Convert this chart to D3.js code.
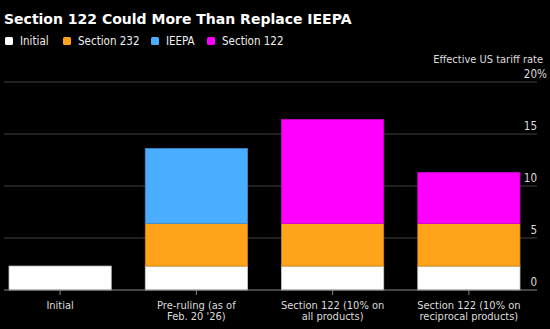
<!DOCTYPE html>
<html>
<head>
<meta charset="utf-8">
<script src="https://cdn.jsdelivr.net/npm/d3@7"></script>
<style>
  body { margin: 0; background: #000; }
  svg { display: block; font-family: "DejaVu Sans Condensed", "DejaVu Sans", sans-serif; font-stretch: condensed; }
</style>
</head>
<body>
<svg id="chart"></svg>
<script>
"use strict";

/*
*  DATA
*/

var categories = ["Initial", "Pre-ruling (as of Feb. 20 '26)", "Section 122 (10% on all products)", "Section 122 (10% on reciprocal products)"];
var labelLines = [["Initial"], ["Pre-ruling (as of", "Feb. 20 '26)"], ["Section 122 (10% on", "all products)"], ["Section 122 (10% on", "reciprocal products)"]];
var seriesNames = ["Initial", "Section 232", "IEEPA", "Section 122"];
var initialValues = [2.3, 2.3, 2.3, 2.3];
var s232Values = [0, 4.1, 4.1, 4.1];
var ieepaValues = [0, 7.2, 0, 0];
var s122Values = [0, 0, 10.0, 4.9];
var yTicks = [0, 5, 10, 15, 20];

var colors = ["#ffffff", "#ffa31a", "#4aadff", "#ff00ff"];

/*
*  DRAW
*/

var width = 550,
    height = 329;

var svg = d3.select('#chart').attr('width', width).attr('height', height);

// TITLE
svg.append('text')
  .attr('x', 4).attr('y', 24)
  .attr('fill', '#fff')
  .style('font-family', '"DejaVu Sans", sans-serif')
  .style('font-stretch', 'normal')
  .style('font-weight', 'bold')
  .style('font-size', '14px')
  .text('Section 122 Could More Than Replace IEEPA');

// LEGEND
var legendX = [5, 63, 151, 207];
var legend = svg.append('g').selectAll('g').data(seriesNames).enter().append('g')
  .attr('transform', function (d, i) { return 'translate(' + legendX[i] + ',37)'; });
legend.append('rect').attr('width', 8).attr('height', 8).attr('rx', 1.5).attr('fill', function (d, i) { return colors[i]; });
legend.append('text').attr('x', 15).attr('y', 8).attr('fill', '#eee').style('font-size', '11.5px').text(function (d) { return d; });

// SCALES
var x = d3.scaleBand().domain(categories).range([-8, 537]).paddingInner(0.25).paddingOuter(0.125);
var y = d3.scaleLinear().domain([0, 20]).range([290, 82]);

// GRID + Y LABELS
var grid = svg.append('g');
grid.selectAll('line').data(yTicks.slice(1)).enter().append('line')
  .attr('x1', 4).attr('x2', 537)
  .attr('y1', function (d) { return y(d); }).attr('y2', function (d) { return y(d); })
  .attr('stroke', '#444').attr('stroke-width', 1);

grid.selectAll('text').data(yTicks).enter().append('text')
  .attr('x', 537).attr('y', function (d) { return y(d) - 4; })
  .attr('fill', '#ddd').style('font-size', '11.5px')
  .attr('text-anchor', 'start')
  .each(function (d) {
    var t = d3.select(this);
    t.append('tspan').text(d);
    if (d === 20) t.append('tspan').text('%');
  })
  .attr('dx', function (d) { return -(this.firstChild.getComputedTextLength()); });

svg.append('text')
  .attr('x', 543).attr('y', 63)
  .attr('text-anchor', 'end')
  .attr('fill', '#ddd').style('font-size', '11px')
  .text('Effective US tariff rate');

// STACKED BARS
var rows = categories.map(function (c, i) {
  return { cat: c, Initial: initialValues[i], "Section 232": s232Values[i], IEEPA: ieepaValues[i], "Section 122": s122Values[i] };
});
var stacked = d3.stack().keys(seriesNames)(rows);

svg.append('g').selectAll('g').data(stacked).enter().append('g')
  .attr('fill', function (d, i) { return colors[i]; })
  .attr('stroke', function (d, i) { return d3.color(colors[i]).darker(0.6); })
  .attr('stroke-width', 0.8)
  .selectAll('rect').data(function (d) { return d.filter(function (p) { return p[1] - p[0] > 0; }); }).enter().append('rect')
  .attr('x', function (d) { return x(d.data.cat); })
  .attr('width', x.bandwidth())
  .attr('y', function (d) { return y(d[1]); })
  .attr('height', function (d) { return y(d[0]) - y(d[1]); });

// X AXIS
var xAxis = svg.append('g').attr('transform', 'translate(0,290)');
xAxis.append('line').attr('x1', 4).attr('x2', 537).attr('stroke', '#888').attr('stroke-width', 1);
xAxis.selectAll('line.tick').data(categories).enter().append('line').attr('class', 'tick')
  .attr('x1', function (d) { return x(d) + x.bandwidth() / 2; })
  .attr('x2', function (d) { return x(d) + x.bandwidth() / 2; })
  .attr('y1', 0).attr('y2', 5)
  .attr('stroke', '#888');

// one text per line so the two lines stay separate
categories.forEach(function (d, i) {
  labelLines[i].forEach(function (line, j) {
    xAxis.append('text')
      .attr('x', x(d) + x.bandwidth() / 2)
      .attr('y', 19 + j * 11)
      .attr('text-anchor', 'middle')
      .attr('fill', '#ddd').style('font-size', '11px')
      .text(line);
  });
});
</script>
</body>
</html>
